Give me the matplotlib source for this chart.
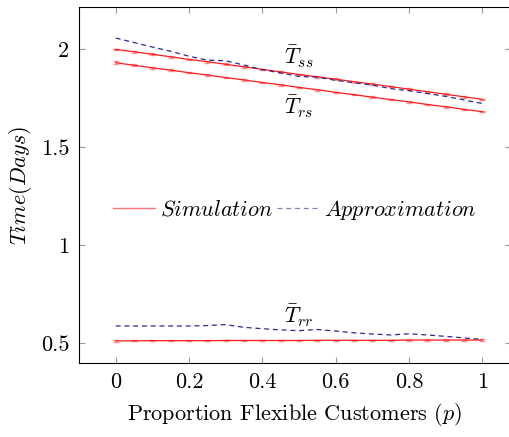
import numpy as np
import matplotlib
matplotlib.use("Agg")
import matplotlib.pyplot as plt

plt.rcParams['font.family'] = 'serif'
plt.rcParams['font.serif'] = ['cmr10']
plt.rcParams['mathtext.fontset'] = 'cm'
plt.rcParams['axes.formatter.use_mathtext'] = True

# data
p = [0.0, 0.05, 0.1, 0.15, 0.2, 0.25, 0.3, 0.35, 0.4, 0.45, 0.5,
     0.55, 0.6, 0.65, 0.7, 0.75, 0.8, 0.85, 0.9, 0.95, 1.0]

sim_ss = [2.000, 1.988, 1.975, 1.962, 1.949, 1.937, 1.924, 1.911, 1.898, 1.885, 1.872,
          1.860, 1.848, 1.835, 1.823, 1.810, 1.797, 1.784, 1.771, 1.758, 1.745]
sim_rs = [1.932, 1.919, 1.906, 1.894, 1.881, 1.869, 1.856, 1.844, 1.831, 1.819, 1.806,
          1.794, 1.781, 1.769, 1.756, 1.744, 1.732, 1.719, 1.707, 1.694, 1.682]
sim_rr = [0.513, 0.513, 0.514, 0.514, 0.514, 0.514, 0.515, 0.515, 0.515, 0.515, 0.515,
          0.516, 0.516, 0.516, 0.516, 0.516, 0.517, 0.517, 0.517, 0.517, 0.517]

err_ss = [0.004] * 21
err_rs = [0.008] + [0.004] * 20
err_rr = [0.005] + [0.003] * 20

app_ss = [2.058, 2.035, 2.012, 1.990, 1.965, 1.945, 1.942, 1.920, 1.896, 1.880, 1.862,
          1.858, 1.842, 1.830, 1.818, 1.800, 1.789, 1.775, 1.760, 1.742, 1.724]
app_rr = [0.589, 0.589, 0.589, 0.589, 0.589, 0.591, 0.596, 0.582, 0.575, 0.569, 0.565,
          0.571, 0.563, 0.554, 0.548, 0.543, 0.549, 0.543, 0.536, 0.528, 0.520]

x_ticks = [0, 0.2, 0.4, 0.6, 0.8, 1]
y_ticks = [0.5, 1, 1.5, 2]

RED = '#ff1a1a'
BLUE = '#2a2a9a'
FS = 16

fig = plt.figure(figsize=(5.09, 4.37), dpi=100)
# right spine sits at the very edge of the picture, as in the reference
ax = fig.add_axes([0.1552, 0.1693, 0.848, 0.8146])

for vals, errs in [(sim_ss, err_ss), (sim_rs, err_rs), (sim_rr, err_rr)]:
    ax.errorbar(p, vals, yerr=errs, fmt='none', ecolor=RED, elinewidth=0.6,
                capsize=2.5, capthick=1.0, alpha=0.45)
    ax.plot(p, vals, color=RED, lw=0.9)

ax.plot(p, app_ss, color=BLUE, lw=0.9, dashes=(4, 3))
ax.plot(p, app_rr, color=BLUE, lw=0.9, dashes=(4, 3))

ax.text(0.5, 1.96, r'$\bar{T}_{ss}$', fontsize=FS, ha='center', va='center')
ax.text(0.5, 1.705, r'$\bar{T}_{rs}$', fontsize=FS, ha='center', va='center')
ax.text(0.5, 0.64, r'$\bar{T}_{rr}$', fontsize=FS, ha='center', va='center')

h1, = ax.plot([], [], color=RED, lw=1.0, alpha=0.6)
h2, = ax.plot([], [], color=BLUE, lw=0.9, dashes=(4, 3), alpha=0.6)
ax.legend([h1, h2], [r'$Simulation$', r'$Approximation$'], ncol=2, frameon=False,
          loc='center', bbox_to_anchor=(0.5, 0.43),
          fontsize=FS, handlelength=1.9, handletextpad=0.2, columnspacing=0.2)

ax.set_xlim(-0.1, 1.077)
ax.set_ylim(0.4, 2.216)
ax.set_xticks(x_ticks)
ax.set_yticks(y_ticks)
ax.set_xticklabels(['0', '0.2', '0.4', '0.6', '0.8', '1'])
ax.set_yticklabels(['0.5', '1', '1.5', '2'])
ax.tick_params(direction='in', length=4, color='#999999', top=True, right=True,
               labelsize=FS, pad=7)
ax.set_xlabel(r'Proportion Flexible Customers ($p$)', fontsize=FS, labelpad=6)
ax.set_ylabel(r'$Time(Days)$', fontsize=FS, labelpad=5)

fig.savefig('out.png', dpi=100)
